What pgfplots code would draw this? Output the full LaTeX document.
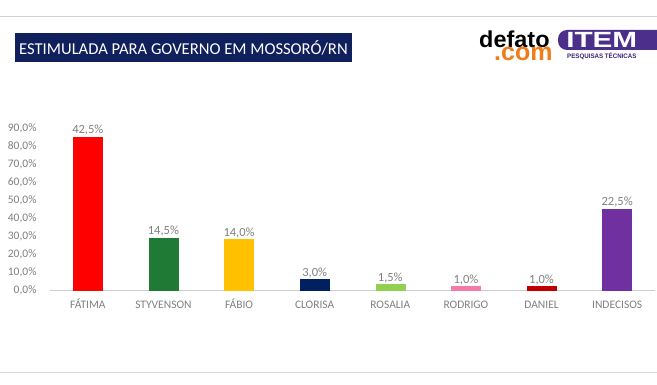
\documentclass[border=0pt]{standalone}
\usepackage{pgfplots}
\pgfplotsset{compat=1.18}
\usepackage{fontspec}
\setmainfont{Carlito}
\newfontfamily\logofont{Liberation Sans}
\definecolor{navybox}{HTML}{10205C}
\definecolor{tickgray}{HTML}{808080}
\definecolor{cFat}{HTML}{FF0000}
\definecolor{cSty}{HTML}{1F7A36}
\definecolor{cFab}{HTML}{FFC000}
\definecolor{cClo}{HTML}{002060}
\definecolor{cRos}{HTML}{92D050}
\definecolor{cRod}{HTML}{F27BAA}
\definecolor{cDan}{HTML}{C00000}
\definecolor{cInd}{HTML}{7030A0}
\definecolor{itemp}{HTML}{4B2F8A}
\definecolor{comor}{HTML}{F07D1A}
\begin{document}
\begin{tikzpicture}[x=1pt,y=1pt]
\path[use as bounding box,fill=white] (0,0) rectangle (657,384);
\draw[gray!35,line width=1pt] (0,367) -- (657,367);
\draw[gray!30,line width=0.8pt] (0,12) -- (657,12);
% title box
\node[fill=navybox,text=white,anchor=west,minimum height=29pt,inner xsep=4pt,font=\fontsize{16.6}{18}\selectfont] at (15,336.5) {ESTIMULADA PARA GOVERNO EM MOSSORÓ/RN};
% logo
\node[anchor=base west,inner sep=0pt,text depth=0pt,font=\logofont\bfseries\fontsize{23}{23}\selectfont,xscale=1.02] at (479,337) {defato};
\node[anchor=base west,inner sep=0pt,text height=12.5pt,text depth=0pt,text=comor,font=\logofont\bfseries\fontsize{25}{25}\selectfont] at (494,323.5) {.com};
\fill[itemp,rounded corners=9pt] (558,334) rectangle (680,354);
\node[anchor=base west,inner sep=0pt,text=white,font=\logofont\bfseries\fontsize{22}{22}\selectfont,xscale=1.35] at (566,336) {ITEM};
\node[anchor=base west,inner sep=0pt,text=itemp!80!black,font=\logofont\bfseries\fontsize{6.5}{6.5}\selectfont,xscale=0.95] at (567,326) {PESQUISAS TÉCNICAS};
\begin{axis}[
  at={(50pt,94pt)}, anchor=south west,
  scale only axis, width=605pt, height=162pt,
  xmin=-0.5, xmax=7.5, ymin=0, ymax=90,
  axis x line*=bottom, axis y line*=left,
  y axis line style={draw=none},
  x axis line style={gray!40,line width=0.8pt},
  ybar, bar width=29pt, bar shift=0pt,
  xtick={0,...,7}, major tick length=0pt,
  xticklabels={FÁTIMA,STYVENSON,FÁBIO,CLORISA,ROSALIA,RODRIGO,DANIEL,INDECISOS},
  xticklabel style={text=tickgray,font=\fontsize{11.5}{12}\selectfont,anchor=base,yshift=-18pt},
  ytick={0,10,...,90},
  yticklabels={{0,0\%},{10,0\%},{20,0\%},{30,0\%},{40,0\%},{50,0\%},{60,0\%},{70,0\%},{80,0\%},{90,0\%}},
  yticklabel style={text=tickgray,font=\fontsize{11.5}{12}\selectfont,xshift=-10pt},
  clip=false,
  nodes near coords,
  point meta=explicit symbolic,
  every node near coord/.append style={text=tickgray,font=\fontsize{12.5}{13}\selectfont,yshift=-2pt},
]
\addplot[fill=cFat,draw=cFat] coordinates {(0,85) [{42,5\%}]};
\addplot[fill=cSty,draw=cSty] coordinates {(1,29) [{14,5\%}]};
\addplot[fill=cFab,draw=cFab] coordinates {(2,28) [{14,0\%}]};
\addplot[fill=cClo,draw=cClo] coordinates {(3,6) [{3,0\%}]};
\addplot[fill=cRos,draw=cRos] coordinates {(4,3) [{1,5\%}]};
\addplot[fill=cRod,draw=cRod] coordinates {(5,2) [{1,0\%}]};
\addplot[fill=cDan,draw=cDan] coordinates {(6,2) [{1,0\%}]};
\addplot[fill=cInd,draw=cInd] coordinates {(7,45) [{22,5\%}]};
\end{axis}
\end{tikzpicture}
\end{document}
